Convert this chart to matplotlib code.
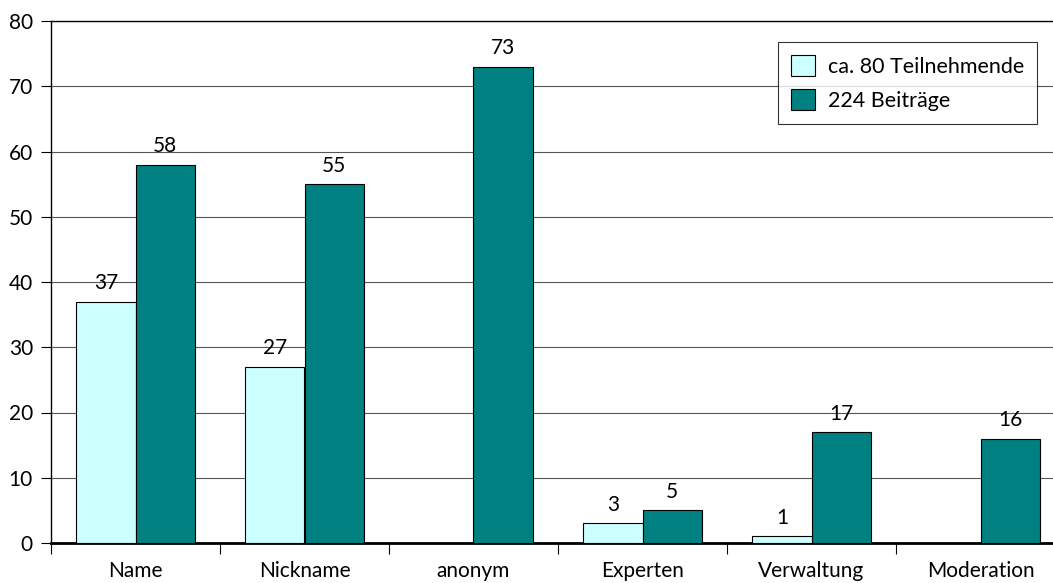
import matplotlib

matplotlib.use("Agg")
import matplotlib.pyplot as plt
import numpy as np

kategorien = ["Name", "Nickname", "anonym", "Experten", "Verwaltung", "Moderation"]
teilnehmende = [37, 27, 0, 3, 1, 0]
beitraege = [58, 55, 73, 5, 17, 16]
serien = ["ca. 80 Teilnehmende", "224 Beiträge"]

HELL = "#CCFFFF"
DUNKEL = "#008080"

plt.rcParams.update({
    "font.family": ["Lato", "DejaVu Sans"],
    "font.size": 15,
})

fig = plt.figure(figsize=(10.53, 5.83), dpi=100)
# Die Zeichenfläche reicht rechts etwas über den Bildrand hinaus, wie im Original
ax = fig.add_axes([51 / 1053, 40 / 583, 1014 / 1053, 522 / 583])

x = np.arange(len(kategorien))
b = 0.35
ax.bar(x - b / 2, teilnehmende, b, color=HELL, edgecolor="black", linewidth=0.8,
       label=serien[0], zorder=3)
ax.bar(x + b / 2, beitraege, b, color=DUNKEL, edgecolor="black", linewidth=0.8,
       label=serien[1], zorder=3)

# Werte über den Balken, Nullwerte ohne Beschriftung
for xi, v in zip(x, teilnehmende):
    if v > 0:
        ax.annotate(str(v), (xi - b / 2, v), textcoords="offset points",
                    xytext=(0, 6), ha="center", va="bottom")
for xi, v in zip(x, beitraege):
    ax.annotate(str(v), (xi + b / 2, v), textcoords="offset points",
                xytext=(0, 6), ha="center", va="bottom")

ax.set_xlim(-0.5, len(kategorien) - 0.5)
ax.set_ylim(0, 80)
ax.set_yticks(range(0, 81, 10))
ax.grid(True, axis="y", color="#555555", linewidth=0.8, zorder=0)
ax.set_axisbelow(True)

ax.set_xticks(x)
ax.set_xticklabels(kategorien)
ax.tick_params(axis="x", length=0, pad=13)
ax.set_xticks(np.arange(len(kategorien) + 1) - 0.5, minor=True)
ax.tick_params(axis="x", which="minor", length=8, width=0.8, direction="out")
ax.tick_params(axis="y", length=7, width=0.8, direction="out", pad=6)

ax.spines["right"].set_visible(False)
ax.spines["top"].set_linewidth(1.0)
ax.spines["left"].set_linewidth(1.0)
ax.spines["bottom"].set_linewidth(2.0)

leg = ax.legend(loc="upper right", frameon=True, fancybox=False, edgecolor="black",
                fontsize=15.5, handlelength=1.1, handleheight=1.1, handletextpad=0.6,
                borderpad=0.6, labelspacing=0.6, borderaxespad=0)
leg.set_bbox_to_anchor((1037 / 1053, 1 - 42 / 583), transform=fig.transFigure)
leg.get_frame().set_linewidth(0.8)

fig.savefig("out.png", dpi=100)
